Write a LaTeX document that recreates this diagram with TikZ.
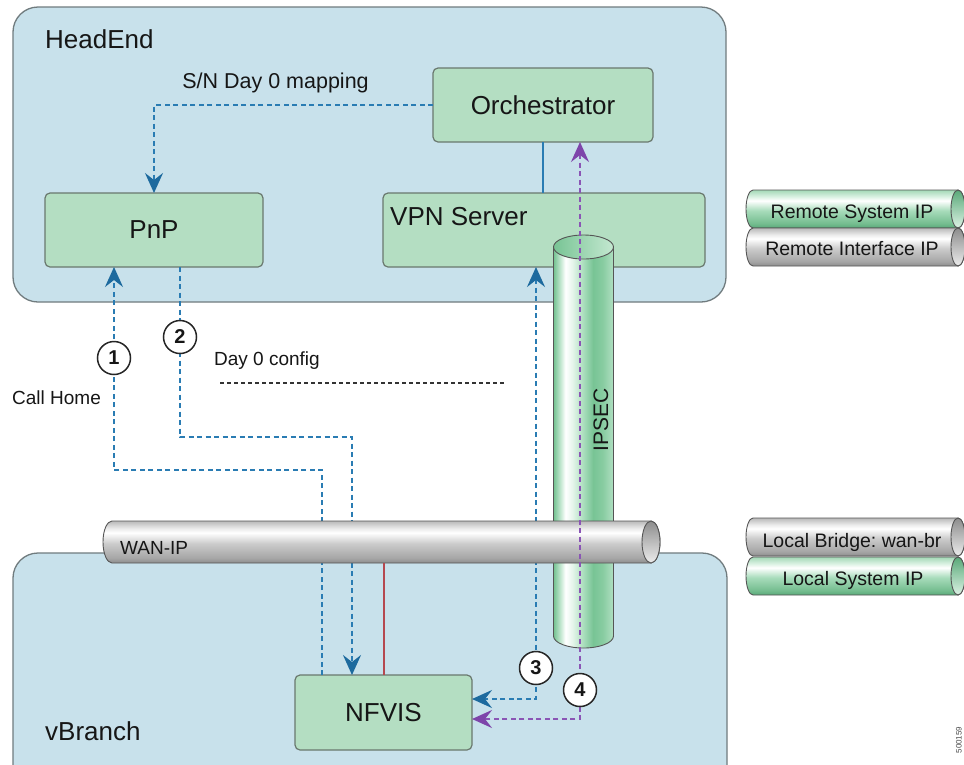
\documentclass[tikz,border=0pt]{standalone}
\usepackage{fontspec}
\setmainfont{Liberation Sans}
\usetikzlibrary{arrows.meta,calc}
\frenchspacing
\definecolor{boxblue}{HTML}{C8E1EB}
\definecolor{boxline}{HTML}{707B7E}
\definecolor{grn}{HTML}{B4DEC2}
\definecolor{grnline}{HTML}{6A786E}
\definecolor{flowblue}{HTML}{2A7CB3}
\definecolor{tipblue}{HTML}{1D6A9E}
\definecolor{flowpurple}{HTML}{8A55B5}
\definecolor{tippurple}{HTML}{7E45AA}
\definecolor{linered}{HTML}{B5484F}
\definecolor{txt}{HTML}{161616}
\definecolor{tubeline}{HTML}{555555}
\definecolor{tgA}{HTML}{8D8D8D}
\definecolor{tgB}{HTML}{A6A6A6}
\definecolor{tgC}{HTML}{CBCBCB}
\definecolor{tgD}{HTML}{ECECEC}
\definecolor{tgE}{HTML}{B9B9B9}
\definecolor{gA}{HTML}{5AA979}
\definecolor{gB}{HTML}{74BD8F}
\definecolor{gC}{HTML}{A8DCBB}
\definecolor{gD}{HTML}{DCF2E4}
\definecolor{gE}{HTML}{A3D8B6}
\definecolor{iA}{HTML}{73C190}
\definecolor{iB}{HTML}{C4E8D1}
\definecolor{iC}{HTML}{E4F5EA}
\definecolor{iD}{HTML}{A9DDBC}
\definecolor{iE}{HTML}{78C495}
\definecolor{iF}{HTML}{88CCA1}
\definecolor{iG}{HTML}{B0DFC1}
\pgfdeclareverticalshading{greytube}{100bp}{color(0bp)=(tgA); color(25bp)=(tgA); color(31bp)=(tgB); color(48bp)=(tgC); color(61bp)=(white); color(66bp)=(tgD); color(75bp)=(tgE); color(100bp)=(tgE)}
\pgfdeclareverticalshading{greentube}{100bp}{color(0bp)=(gA); color(25bp)=(gA); color(31bp)=(gB); color(48bp)=(gC); color(61bp)=(white); color(66bp)=(gD); color(75bp)=(gE); color(100bp)=(gE)}
\pgfdeclarehorizontalshading{ipsectube}{100bp}{color(0bp)=(iA); color(25bp)=(iA); color(31bp)=(iB); color(35bp)=(white); color(41bp)=(iC); color(50bp)=(iD); color(58bp)=(iE); color(66bp)=(iF); color(75bp)=(iG); color(100bp)=(iG)}
\newcommand\htubeX[6]{%
  \shadedraw[tubeedge, shading=#6] ({#1},{#3-#4}) -- ({#2},{#3-#4})
    arc[start angle=-90,end angle=90,x radius=#5,y radius=#4] -- ({#1},{#3+#4})
    arc[start angle=90,end angle=270,x radius=#5,y radius=#4] -- cycle;}
\begin{document}
\begin{tikzpicture}[x=1pt,y=-1pt,
  area/.style={draw=boxline, line width=1.3pt, fill=boxblue, rounded corners=25pt, outer sep=0pt, inner sep=0pt},
  gbox/.style={draw=grnline, line width=1.2pt, fill=grn, rounded corners=5pt, outer sep=0pt, inner sep=0pt, font=\fontsize{26}{30}\selectfont, text=txt},
  lbl/.style={inner sep=0pt, font=\fontsize{26}{30}\selectfont, text=txt},
  slbl/.style={inner sep=0pt, font=\fontsize{19}{22}\selectfont, text=txt},
  legtxt/.style={inner sep=0pt, font=\fontsize{19.5}{22}\selectfont, text=txt, anchor=base},
  bluedash/.style={draw=flowblue, line width=2pt, dash pattern=on 5pt off 3.5pt},
  purpledash/.style={draw=flowpurple, line width=2pt, dash pattern=on 5pt off 3.5pt},
  btip/.style={-{Stealth[length=20pt,width=18pt,inset=7pt,color=tipblue]}},
  bboth/.style={{Stealth[length=20pt,width=18pt,inset=7pt,color=tipblue]}-{Stealth[length=20pt,width=18pt,inset=7pt,color=tipblue]}},
  pboth/.style={{Stealth[length=20pt,width=18pt,inset=7pt,color=tippurple]}-{Stealth[length=20pt,width=18pt,inset=7pt,color=tippurple]}},
  num/.style={circle, draw=black!85, line width=1.5pt, fill=white, minimum size=33pt, inner sep=0pt, font=\fontsize{20}{22}\selectfont\bfseries, text=txt},
  tubeedge/.style={draw=tubeline, line width=0.9pt},
]
\useasboundingbox[fill=white] (0,0) rectangle (964,764);

% areas
\node[area, minimum width=713pt, minimum height=295pt] (headend) at (369.5,154.5) {};
\node[area, minimum width=714pt, minimum height=247pt] (vbranch) at (370,676.5) {};
\node[lbl, anchor=base west] (headendtxt) at (45,48) {HeadEnd};
\node[lbl, anchor=base west] (vbranchtxt) at (45,740) {vBranch};

% boxes
\node[gbox, minimum width=220pt, minimum height=74pt] (orch) at (543,105) {Orchestrator};
\node[gbox, minimum width=218pt, minimum height=74pt] (pnp) at (154,230) {PnP};
\node[gbox, minimum width=322pt, minimum height=74pt] (vpn) at (544,230) {};
\node[lbl, anchor=base west] (vpntxt) at (390,225) {VPN Server};
\node[gbox, minimum width=177pt, minimum height=75pt] (nfvis) at (383.5,712.5) {NFVIS};

% helper coordinates
\coordinate (p1a) at (322,470);
\coordinate (p1b) at (114,470);
\coordinate (p2a) at (180,437);
\coordinate (p2b) at (352,437);
\coordinate (p3a) at (536,699);
\coordinate (p4a) at (580,719);
\coordinate (wanb) at (383.5,563);
\coordinate (d0a) at (220,383);
\coordinate (d0b) at (505,383);

% Orchestrator - VPN
\draw[draw=flowblue, line width=1.8pt] (orch.south) -- (vpn.north -| orch.south);

% S/N Day 0 mapping
\draw[bluedash, btip] (orch.west) -| (pnp.north);
\node[slbl, font=\fontsize{21.5}{24}\selectfont, anchor=base] (sntxt) at (275.5,88) {S/N Day 0 mapping};

% Call home (1)
\draw[bluedash, btip] (nfvis.north -| p1a) -- (p1a) -- (p1b) -- (pnp.south -| p1b);
% Day 0 config (2)
\draw[bluedash, btip] (pnp.south -| p2a) -- (p2a) -- (p2b) -- (nfvis.north -| p2b);
% (3)
\draw[bluedash, bboth] (vpn.south -| p3a) -- (p3a) -- (nfvis.east |- p3a);

\node[slbl, anchor=base west] (calltxt) at (12,404) {Call Home};
\node[slbl, anchor=base] (d0txt) at (267,365) {Day 0 config};
\draw[draw=black!80, line width=1.5pt, dash pattern=on 4pt off 3pt] (d0a) -- (d0b);

% IPSEC tube
\shadedraw[tubeedge, shading=ipsectube] (553.5,247) -- (553.5,636)
  arc[start angle=180,end angle=0,x radius=30,y radius=12] -- (613.5,247) -- cycle;
\shadedraw[tubeedge, left color=iE, right color=iB] (583.5,247) ellipse[x radius=30, y radius=12];
\node[slbl, rotate=90, font=\fontsize{21}{24}\selectfont] (ipsectxt) at (601,420) {IPSEC};

% WAN tube
\htubeX{112}{651}{542}{21}{9}{greytube}
\shadedraw[tubeedge, top color=tgA, bottom color=tgD] (651,542) ellipse[x radius=9, y radius=21];
\node[slbl, anchor=base west] (wantxt) at (120,554) {WAN-IP};

% red link
\draw[draw=linered, line width=2pt] (wanb) -- (nfvis.north);

% (4) purple
\draw[purpledash, pboth] (orch.south -| p4a) -- (p4a) -- (nfvis.east |- p4a);

% numbers
\node[num] (n1) at (114,358) {1};
\node[num] (n2) at (180,337) {2};
\node[num] (n3) at (536,668) {3};
\node[num] (n4) at (580,690) {4};

% legend tubes
\htubeX{753}{958}{209}{19}{7}{greentube}
\shadedraw[tubeedge, top color=gA, bottom color=gD] (958,209) ellipse[x radius=7, y radius=19];
\htubeX{753}{958}{247}{19}{7}{greytube}
\shadedraw[tubeedge, top color=tgA, bottom color=tgD] (958,247) ellipse[x radius=7, y radius=19];
\htubeX{753}{958}{537}{19}{7}{greytube}
\shadedraw[tubeedge, top color=tgA, bottom color=tgD] (958,537) ellipse[x radius=7, y radius=19];
\htubeX{753}{958}{576}{19}{7}{greentube}
\shadedraw[tubeedge, top color=gA, bottom color=gD] (958,576) ellipse[x radius=7, y radius=19];
\node[legtxt] (rsys) at (852,218) {Remote System IP};
\node[legtxt] (rint) at (852,255) {Remote Interface IP};
\node[legtxt] (lbr) at (852,547) {Local Bridge: wan-br};
\node[legtxt] (lsys) at (853,585) {Local System IP};

% figure number
\node[inner sep=0pt, rotate=90, font=\fontsize{8}{9}\selectfont, text=black!70, anchor=south] (fignum) at (962,740) {500159};
\end{tikzpicture}
\end{document}
